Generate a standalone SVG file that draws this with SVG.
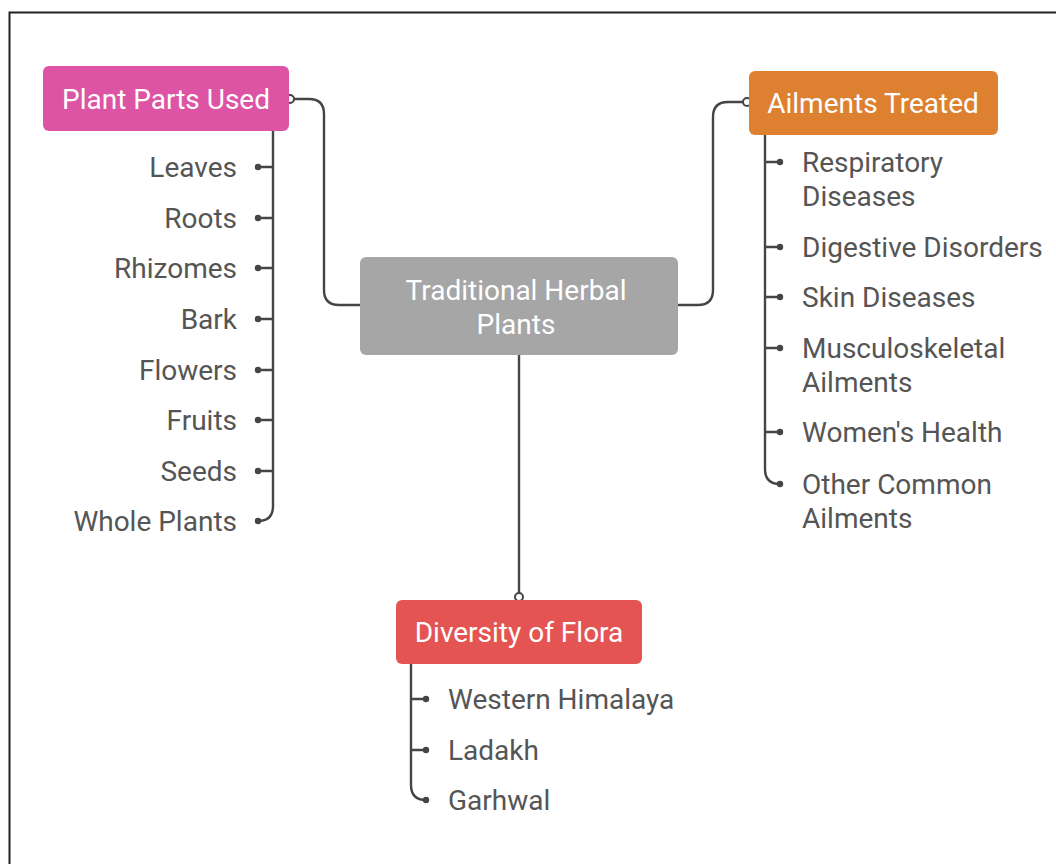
<svg xmlns="http://www.w3.org/2000/svg" width="1056" height="864" viewBox="0 0 1056 864">
<style>
.frame{fill:none;stroke:#222;stroke-width:2}
.conn{fill:none;stroke:#454545;stroke-width:2.4}
.dot{fill:#454545}
.ring{fill:#fff;stroke:#454545;stroke-width:2}
.hd{font-family:Roboto,"Liberation Sans",sans-serif;font-size:28px;fill:#fff}
.it{font-family:Roboto,"Liberation Sans",sans-serif;font-size:28px;fill:#555}
</style>
<rect width="1056" height="864" fill="#fff"/>
<path class="frame" d="M9.5 864 V12.5 H1056"/>
<g id="connectors">
<path class="conn" d="M360 305 H339 Q324 305 324 290 V114 Q324 99 309 99 H290"/>
<path class="conn" d="M678 305 H698 Q713 305 713 290 V117 Q713 102 728 102 H747"/>
<path class="conn" d="M519 355 V597"/>
<path class="conn" d="M273 131 V506 Q273 521 258 521 M273 167 H258 M273 218 H258 M273 268 H258 M273 319 H258 M273 370 H258 M273 420 H258 M273 471 H258"/>
<path class="conn" d="M765 135 V469 Q765 484 780 484 M765 162 H780 M765 247 H780 M765 297 H780 M765 348 H780 M765 432 H780"/>
<path class="conn" d="M411 664 V785 Q411 800 426 800 M411 699 H426 M411 750 H426"/>
<g class="dot">
<circle cx="258" cy="167" r="3.2"/><circle cx="258" cy="218" r="3.2"/><circle cx="258" cy="268" r="3.2"/><circle cx="258" cy="319" r="3.2"/><circle cx="258" cy="370" r="3.2"/><circle cx="258" cy="420" r="3.2"/><circle cx="258" cy="471" r="3.2"/><circle cx="258" cy="521" r="3.2"/>
<circle cx="780" cy="162" r="3.2"/><circle cx="780" cy="247" r="3.2"/><circle cx="780" cy="297" r="3.2"/><circle cx="780" cy="348" r="3.2"/><circle cx="780" cy="432" r="3.2"/><circle cx="780" cy="484" r="3.2"/>
<circle cx="426" cy="699" r="3.2"/><circle cx="426" cy="750" r="3.2"/><circle cx="426" cy="800" r="3.2"/>
</g>
<circle class="ring" cx="290" cy="99" r="4"/>
<circle class="ring" cx="747" cy="102" r="4"/>
<circle class="ring" cx="519" cy="597" r="4"/>
</g>
<g id="node-center">
<rect x="360" y="257" width="318" height="98" rx="6" fill="#a6a6a6"/>
<text class="hd" x="516" y="300" text-anchor="middle">Traditional Herbal</text>
<text class="hd" x="516" y="334" text-anchor="middle">Plants</text>
</g>
<g id="node-parts">
<rect x="43" y="66" width="246" height="65" rx="6" fill="#dc54a3"/>
<text class="hd" x="166" y="109" text-anchor="middle">Plant Parts Used</text>
</g>
<g id="node-ailments">
<rect x="749" y="71" width="249" height="64" rx="6" fill="#dd8130"/>
<text class="hd" x="873" y="113" text-anchor="middle">Ailments Treated</text>
</g>
<g id="node-flora">
<rect x="396" y="600" width="246" height="64" rx="6" fill="#e35452"/>
<text class="hd" x="519" y="642" text-anchor="middle">Diversity of Flora</text>
</g>
<g id="parts-items" class="it" text-anchor="end">
<text x="237" y="177">Leaves</text>
<text x="237" y="228">Roots</text>
<text x="237" y="278">Rhizomes</text>
<text x="237" y="329">Bark</text>
<text x="237" y="380">Flowers</text>
<text x="237" y="430">Fruits</text>
<text x="237" y="481">Seeds</text>
<text x="237" y="531">Whole Plants</text>
</g>
<g id="ailment-items" class="it">
<text x="802" y="172">Respiratory</text>
<text x="802" y="206">Diseases</text>
<text x="802" y="257">Digestive Disorders</text>
<text x="802" y="307">Skin Diseases</text>
<text x="802" y="358">Musculoskeletal</text>
<text x="802" y="392">Ailments</text>
<text x="802" y="442">Women's Health</text>
<text x="802" y="494">Other Common</text>
<text x="802" y="528">Ailments</text>
</g>
<g id="flora-items" class="it">
<text x="448" y="709">Western Himalaya</text>
<text x="448" y="760">Ladakh</text>
<text x="448" y="810">Garhwal</text>
</g>
</svg>
